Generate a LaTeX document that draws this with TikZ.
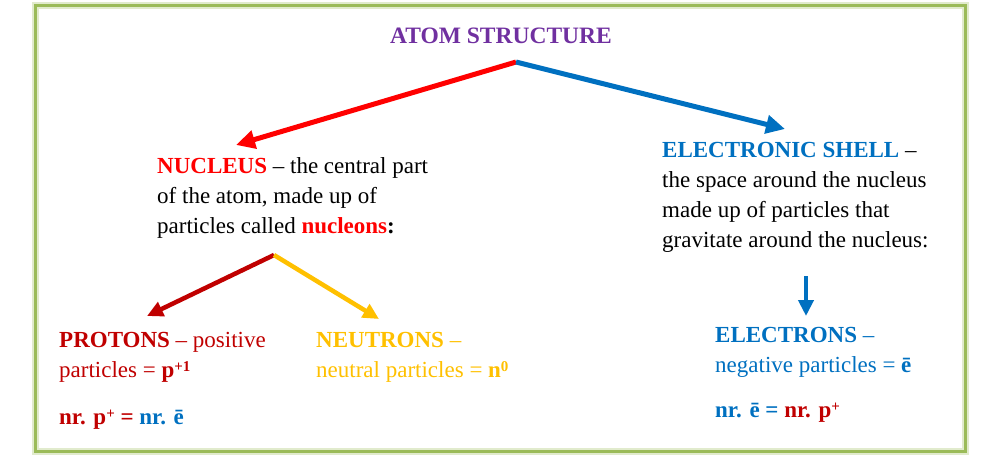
\documentclass[tikz,border=0pt]{standalone}
\usepackage{fontspec}
\setmainfont{Liberation Serif}
\usetikzlibrary{arrows.meta, positioning}
\usepackage{xcolor}
\definecolor{titlepurple}{HTML}{7030A0}
\definecolor{nucred}{HTML}{FF0000}
\definecolor{protred}{HTML}{C00000}
\definecolor{neutyellow}{HTML}{FFC000}
\definecolor{shellblue}{HTML}{0070C0}
\definecolor{framegreen}{HTML}{9BBB59}
\newcommand{\chargesup}[1]{\raisebox{0.55ex}{\fontsize{15}{15}\selectfont #1}}

\begin{document}
\begin{tikzpicture}[x=1pt, y=-1pt,
    font=\fontsize{23}{30}\selectfont,
    txt/.style={anchor=base west, align=left, inner sep=0pt},
    bigarrow/.style={line width=5pt, -{Triangle[length=19pt,width=18pt]}},
    smallarrow/.style={line width=4.5pt, -{Triangle[length=16pt,width=15pt]}}]
  \useasboundingbox (0,0) rectangle (1000,456);

  % frame
  \draw[framegreen!30, line width=7pt] (35.5,5.5) rectangle (965.5,451);
  \draw[framegreen, line width=3pt] (35.5,5.5) rectangle (965.5,451);

  % texts (base = last line)
  \node[anchor=base, inner sep=0pt, text=titlepurple, font=\fontsize{23.5}{30}\selectfont\bfseries] (title) at (501,43) {ATOM STRUCTURE};
  \node[txt] (nucleus) at (157,233) {\textcolor{nucred}{\textbf{NUCLEUS}} -- the central part\\of the atom, made up of\\particles called \textcolor{nucred}{\textbf{nucleons}}\textbf{:}};
  \node[txt] (shell) at (662,247) {\textcolor{shellblue}{\textbf{ELECTRONIC SHELL}} --\\the space around the nucleus\\made up of particles that\\gravitate around the nucleus:};
  \node[txt, text=protred] (protons) at (59,377) {\textbf{PROTONS} -- positive\\particles = \textbf{p\chargesup{+1}}};
  \node[txt, text=neutyellow] (neutrons) at (316,377) {\textbf{NEUTRONS} --\\neutral particles = \textbf{n\chargesup{0}}};
  \node[txt, text=shellblue] (electrons) at (715,372) {\textbf{ELECTRONS} --\\negative particles = \textbf{ē}};
  \node[txt, text=protred, font=\fontsize{23}{30}\selectfont\bfseries] (peq) at (59,424) {nr. p\chargesup{+} = \textcolor{shellblue}{nr. ē}};
  \node[txt, text=shellblue, font=\fontsize{23}{30}\selectfont\bfseries] (eeq) at (715,417) {nr. ē = \textcolor{protred}{nr. p\chargesup{+}}};

  % arrow ends
  \coordinate (apex) at (516,62);
  \coordinate (nuctip) at (236,145);
  \coordinate (shelltip) at (785,129);
  \coordinate (fork) at (274,255);
  \coordinate (prottip) at (147,316);
  \coordinate (neuttip) at (379,319);
  \coordinate (downstart) at (806,276);
  \coordinate (downtip) at (806,316);

  % arrows
  \draw[bigarrow, nucred] (apex) -- (nuctip);
  \draw[bigarrow, shellblue] (apex) -- (shelltip);
  \draw[smallarrow, protred] (fork) -- (prottip);
  \draw[smallarrow, neutyellow] (fork) -- (neuttip);
  \draw[smallarrow, shellblue] (downstart) -- (downtip);
\end{tikzpicture}
\end{document}
